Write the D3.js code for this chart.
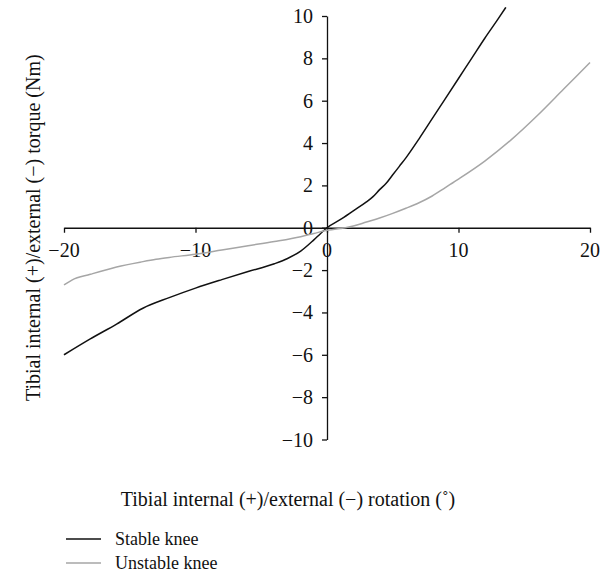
<!DOCTYPE html>
<html><head><meta charset="utf-8">
<script src="https://cdn.jsdelivr.net/npm/d3@7"></script>
<style>body{margin:0;background:#fff}svg{display:block}text{font-family:"Liberation Serif","DejaVu Serif",serif;fill:#111}</style>
</head><body><svg id="c" width="608" height="575"></svg>
<script>
const xTicks = [-20, -10, 0, 10, 20];
const yTicks = [-10, -8, -6, -4, -2, 0, 2, 4, 6, 8, 10];
const stableX = [-20, -18, -16, -14, -12, -10, -8, -6, -4, -3, -2, -1, -0.5, 0, 1, 2, 3, 3.5, 4, 4.5, 5, 5.5, 6, 7, 8, 9, 10, 11, 12, 13, 13.6];
const stableY = [-6.0, -5.25, -4.55, -3.8, -3.3, -2.85, -2.45, -2.07, -1.7, -1.45, -1.1, -0.57, -0.28, 0, 0.38, 0.8, 1.22, 1.47, 1.8, 2.1, 2.5, 2.9, 3.3, 4.2, 5.15, 6.1, 7.05, 8.0, 8.95, 9.85, 10.41];
const unstableX = [-20, -19.4, -18, -16, -14, -13, -12, -10, -8, -6, -4, -2, -1, 0, 1, 1.4, 2, 3, 4, 5, 6, 7, 8, 9, 10, 12, 14, 16, 18, 20];
const unstableY = [-2.7, -2.47, -2.2, -1.85, -1.6, -1.49, -1.4, -1.25, -1.05, -0.85, -0.65, -0.42, -0.27, -0.12, -0.03, 0, 0.08, 0.27, 0.46, 0.68, 0.92, 1.18, 1.5, 1.9, 2.3, 3.15, 4.15, 5.3, 6.55, 7.8];
const seriesNames = ["Stable knee", "Unstable knee"];
const seriesColors = ["#111111", "#a6a6a6"];
const xTitle = "Tibial internal (+)/external (\u2212) rotation (\u02da)";
const yTitle = "Tibial internal (+)/external (\u2212) torque (Nm)";

const svg = d3.select("#c");
const x = d3.scaleLinear().domain([-20, 20]).range([64, 590]);
const y = d3.scaleLinear().domain([-10, 10]).range([439.5, 16]);
const fmt = d => d < 0 ? "\u2212" + Math.abs(d) : String(d);

// x axis
const gx = svg.append("g").attr("transform", `translate(0,${y(0)})`)
  .call(d3.axisBottom(x).tickValues(xTicks).tickSize(5).tickSizeOuter(0).tickFormat(""));
gx.select(".domain").attr("stroke", "#111").attr("stroke-width", 1.3);
gx.selectAll(".tick line").attr("stroke", "#111").attr("stroke-width", 1.3);
svg.append("g").selectAll("text").data(xTicks).join("text")
  .attr("x", d => x(d)).attr("y", y(0) + 29).attr("text-anchor", "middle")
  .attr("font-size", 20).text(fmt);

// y axis
const gy = svg.append("g").attr("transform", `translate(${x(0)},0)`)
  .call(d3.axisLeft(y).tickValues(yTicks).tickSize(5).tickSizeOuter(0).tickFormat(""));
gy.select(".domain").attr("stroke", "#111").attr("stroke-width", 1.3);
gy.selectAll(".tick line").attr("stroke", "#111").attr("stroke-width", 1.3);
svg.append("g").selectAll("text").data(yTicks).join("text")
  .attr("x", x(0) - 14).attr("y", d => y(d) + 7).attr("text-anchor", "end")
  .attr("font-size", 20).text(fmt);

// lines
const line = d3.line().x(d => x(d[0])).y(d => y(d[1])).curve(d3.curveMonotoneX);
const series = [d3.zip(stableX, stableY), d3.zip(unstableX, unstableY)];
svg.append("g").selectAll("path").data(series).join("path")
  .attr("d", line).attr("fill", "none")
  .attr("stroke", (d, i) => seriesColors[i]).attr("stroke-width", 1.5);

// titles
svg.append("text").attr("x", 288).attr("y", 506).attr("text-anchor", "middle")
  .attr("font-size", 20).text(xTitle);
svg.append("text").attr("transform", `translate(40,${y(0)}) rotate(-90)`)
  .attr("text-anchor", "middle").attr("font-size", 20).text(yTitle);

// legend
const lg = svg.append("g").selectAll("g").data(seriesNames).join("g")
  .attr("transform", (d, i) => `translate(66,${539 + i * 24})`);
lg.append("line").attr("x1", 0).attr("x2", 35).attr("y1", 0).attr("y2", 0)
  .attr("stroke", (d, i) => seriesColors[i]).attr("stroke-width", 1.3);
lg.append("text").attr("x", 49).attr("y", 6).attr("font-size", 18).text(d => d);
</script></body></html>
